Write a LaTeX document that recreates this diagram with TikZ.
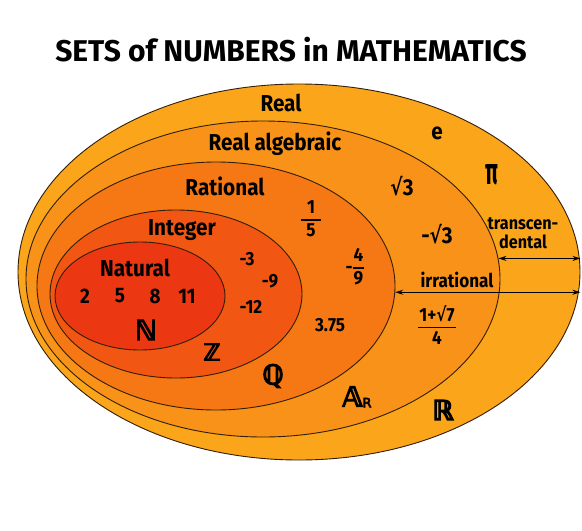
\documentclass[tikz,border=0pt]{standalone}
\usepackage{fontspec}
\setmainfont{Fira Sans}[FakeStretch=0.9]
\newfontfamily\titlefont{Fira Sans}[FakeStretch=1.0]
\newfontfamily\dsfont{DejaVu Sans}[FakeBold=5]
\newfontfamily\rootfont{DejaVu Sans}[FakeStretch=0.8]
\usepackage{tikz}
\usetikzlibrary{arrows.meta,shapes.geometric}

\definecolor{cReal}{RGB}{251,166,26}
\definecolor{cAlg}{RGB}{248,146,24}
\definecolor{cRat}{RGB}{245,120,20}
\definecolor{cInt}{RGB}{241,86,18}
\definecolor{cNat}{RGB}{236,56,18}
\definecolor{cLine}{RGB}{50,30,10}

% small fraction with a rule between the two lines
\newcommand{\frc}[3][3pt]{\begin{tabular}{@{\hspace{#1}}c@{\hspace{#1}}}#2\\[-1pt]\hline\rule{0pt}{16pt}#3\end{tabular}}
\newcommand{\rt}{{\rootfont √}}

\begin{document}
\begin{tikzpicture}[x=1pt,y=-1pt,
  set/.style={ellipse, draw=cLine, line width=0.9pt, inner sep=0pt},
  lbl/.style={font=\fontsize{23}{25}\selectfont\bfseries, inner sep=0pt},
  num/.style={font=\fontsize{19}{21}\selectfont\bfseries, inner sep=0pt},
  dbl/.style={font=\dsfont\fontsize{27}{29}\selectfont, inner sep=0pt},
  both/.style={{Stealth[length=8pt,width=5pt]}-{Stealth[length=8pt,width=5pt]}, line width=1.1pt}]
\useasboundingbox[fill=white] (0,0) rectangle (582,531);
\setlength{\arrayrulewidth}{1.3pt}
% nested sets, outer to inner
\node[set, fill=cReal, minimum width=562, minimum height=376] (real) at (299,272) {};
\node[set, fill=cAlg, minimum width=474, minimum height=316] (alg) at (263,279) {};
\node[set, fill=cRat, minimum width=358, minimum height=248] (rat) at (216,286) {};
\node[set, fill=cInt, minimum width=252, minimum height=168] (int) at (176,294) {};
\node[set, fill=cNat, minimum width=170, minimum height=108] (nat) at (140,296) {};
% title
\node[font=\titlefont\bfseries\fontsize{30}{32}\selectfont, inner sep=0pt] (title) at (291,50) {SETS of NUMBERS in MATHEMATICS};
% set names
\node[lbl] (lreal) at (281,103) {Real};
\node[lbl] (lalg) at (275,144) {Real algebraic};
\node[lbl] (lrat) at (225,186) {Rational};
\node[lbl] (lint) at (182,230) {Integer};
\node[lbl] (lnat) at (135,268) {Natural};
% members
\node[lbl] (e) at (437,133) {e};
\node[lbl, font=\fontsize{26}{28}\selectfont\bfseries] (pi) at (492,175) {\scalebox{0.9}[1.45]{π}};
\node[lbl] (r3) at (402,186) {\rt3};
\node[lbl] (mr3) at (437,234) {-\rt3};
\node[num] (f15) at (311,221) {\frc[5pt]{1}{5}};
\node[num] (f49) at (355,269) {-\frc[1pt]{4}{9}};
\node[num] (f7) at (437,328) {\frc[1pt]{1+\rt7}{4}};
\node[num] (d375) at (330,325) {3.75};
\node[num] (m3) at (247,259) {-3};
\node[num] (m9) at (270,281) {-9};
\node[num] (m12) at (251,307) {-12};
\foreach \v/\x in {2/85,5/120,8/155,11/187}
  \node[num, font=\fontsize{21}{23}\selectfont\bfseries] (n\v) at (\x,296) {\v};
% set symbols
\node[dbl] (sN) at (146,330) {ℕ};
\node[dbl, font=\dsfont\fontsize{23}{25}\selectfont] (sZ) at (212,352) {ℤ};
\node[dbl] (sQ) at (273,376) {ℚ};
\node[dbl] (sA) at (357,397) {𝔸\raisebox{-1pt}{\fontsize{13}{13}\selectfont R}};
\node[dbl] (sR) at (443,410) {ℝ};
% irrational and transcendental spans
\draw[both] (rat.-2) -- (rat.-2 -| real.east);
\node[num, font=\fontsize{19}{21}\selectfont\bfseries] (lirr) at (457,280) {irrational};
\draw[both] (alg.5) -- (alg.5 -| real.east);
\node[num, font=\fontsize{18}{19}\selectfont\bfseries, align=center] (ltr) at (523,233) {transcen-\\dental};
\end{tikzpicture}
\end{document}
